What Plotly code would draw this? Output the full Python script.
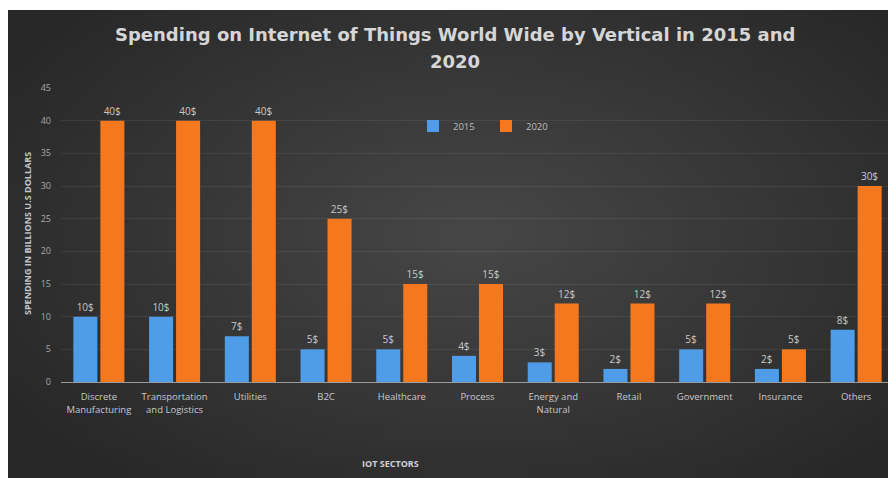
import base64
import math
import struct
import zlib

import plotly.graph_objects as go

categories = ["Discrete<br>Manufacturing", "Transportation<br>and Logistics", "Utilities", "B2C",
              "Healthcare", "Process", "Energy and<br>Natural", "Retail", "Government",
              "Insurance", "Others"]
values_2015 = [10, 10, 7, 5, 5, 4, 3, 2, 5, 2, 8]
values_2020 = [40, 40, 40, 25, 15, 15, 12, 12, 12, 5, 30]
labels_2015 = [f"{v}$" for v in values_2015]
labels_2020 = [f"{v}$" for v in values_2020]
y_ticks = [0, 5, 10, 15, 20, 25, 30, 35, 40, 45]

# page body has an 8px margin, so the figure is drawn offset by 8px
OFF = 8
W, H = 896 - OFF, 478 - OFF
L, R, T, B = 53, 2, 80, 96
pw, ph = W - L - R, H - T - B


def px_x(p):  # window pixel -> paper x
    return (p - OFF - L) / pw


def px_y(p):  # window pixel -> paper y
    return (H - B - (p - OFF)) / ph


def gradient_png(w=96, h=52):
    cx, cy = 0.52 * w, 0.47 * h
    rows = b""
    for j in range(h):
        row = bytearray([0])
        for i in range(w):
            r = math.sqrt(((i - cx) / (0.62 * w)) ** 2 + ((j - cy) / (0.68 * h)) ** 2)
            r = min(1.0, r)
            v = int(round(0x47 - (0x47 - 0x28) * r))
            row.append(v)
        rows += bytes(row)

    def chunk(tag, data):
        c = struct.pack(">I", len(data)) + tag + data
        return c + struct.pack(">I", zlib.crc32(tag + data) & 0xFFFFFFFF)

    png = b"\x89PNG\r\n\x1a\n"
    png += chunk(b"IHDR", struct.pack(">IIBBBBB", w, h, 8, 0, 0, 0, 0))
    png += chunk(b"IDAT", zlib.compress(rows))
    png += chunk(b"IEND", b"")
    return "data:image/png;base64," + base64.b64encode(png).decode()


fig = go.Figure()
fig.add_trace(go.Bar(name="2015", x=categories, y=values_2015, text=labels_2015,
                     textposition="outside", marker=dict(color="#4f9de8", line=dict(width=0)),
                     textfont=dict(color="#c8c8c8", size=10), cliponaxis=False))
fig.add_trace(go.Bar(name="2020", x=categories, y=values_2020, text=labels_2020,
                     textposition="outside", marker=dict(color="#f5781e", line=dict(width=0)),
                     textfont=dict(color="#c8c8c8", size=10), cliponaxis=False))

fig.update_layout(
    width=W, height=H,
    margin=dict(l=L, r=R, t=T, b=B, autoexpand=False),
    paper_bgcolor="#333333",
    plot_bgcolor="rgba(0,0,0,0)",
    barmode="group", bargap=0.287, bargroupgap=0.11,
    font=dict(family="Open Sans, sans-serif", color="#bdbdbd", size=9),
    showlegend=True,
    legend=dict(orientation="h", x=px_x(413), y=px_y(126), xanchor="left", yanchor="middle",
                font=dict(size=9.5, color="#bdbdbd"), bgcolor="rgba(0,0,0,0)",
                entrywidth=28, entrywidthmode="pixels", itemwidth=30, tracegroupgap=0),
    xaxis=dict(tickfont=dict(size=9.5, color="#c8c8c8"), showgrid=False, showline=True,
               linecolor="#9a9a9a", linewidth=1, ticks="", automargin=False,
               ticklabelstandoff=6),
    yaxis=dict(range=[0, 45], tickvals=y_ticks, tickfont=dict(size=9, color="#a8a8a8"),
               showgrid=True, gridcolor="rgba(255,255,255,0.07)", gridwidth=1, zeroline=False,
               ticks="", ticklabelstandoff=9, automargin=False),
    images=[dict(source=gradient_png(), xref="paper", yref="paper",
                 x=-L / pw, y=1 + T / ph, sizex=W / pw, sizey=H / ph,
                 xanchor="left", yanchor="top", sizing="stretch", layer="below")],
    shapes=[
        dict(type="rect", xref="paper", yref="paper", x0=px_x(0), x1=px_x(900),
             y0=px_y(10), y1=px_y(0), fillcolor="white", line=dict(width=0), layer="above"),
    ],
    annotations=[
        dict(text="<b>Spending on Internet of Things World Wide by Vertical in 2015 and</b>",
             xref="paper", yref="paper", x=px_x(455), y=px_y(35), showarrow=False,
             xanchor="center", yanchor="middle",
             font=dict(family="DejaVu Sans, sans-serif", size=18, color="#d6d6d6")),
        dict(text="<b>2020</b>",
             xref="paper", yref="paper", x=px_x(455), y=px_y(61), showarrow=False,
             xanchor="center", yanchor="middle",
             font=dict(family="DejaVu Sans, sans-serif", size=18, color="#d6d6d6")),
        dict(text="<b>SPENDING IN BILLIONS U.S DOLLARS</b>", xref="paper", yref="paper",
             x=px_x(27), y=px_y(234), showarrow=False, textangle=-90,
             xanchor="center", yanchor="middle", font=dict(size=9, color="#c4c4c4")),
        dict(text="<b>IOT SECTORS</b>", xref="paper", yref="paper", x=px_x(390), y=px_y(463),
             showarrow=False, xanchor="center", yanchor="middle",
             font=dict(size=9, color="#d0d0d0")),
    ],
)

fig.write_html("out.html")
